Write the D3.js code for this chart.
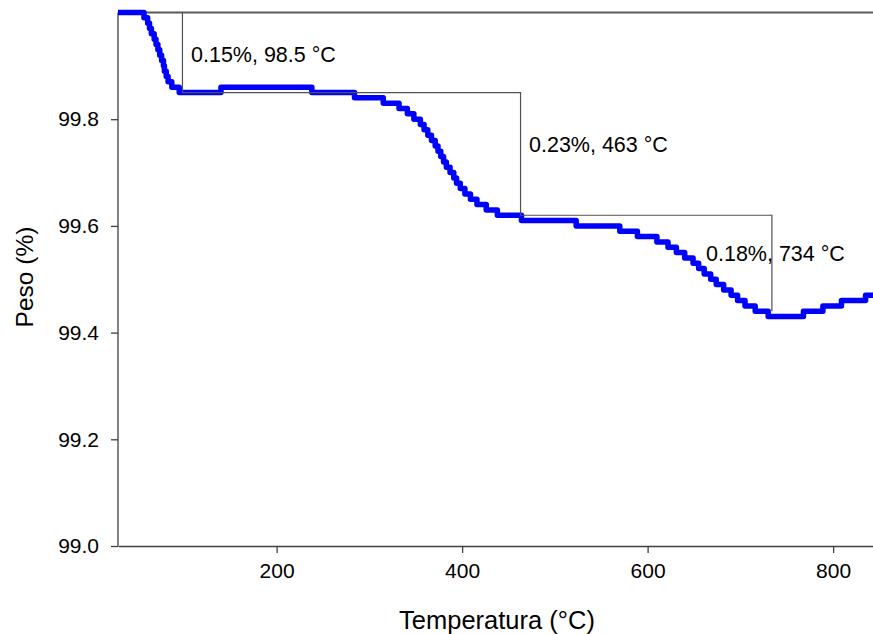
<!DOCTYPE html>
<html>
<head>
<meta charset="utf-8">
<script src="https://cdn.jsdelivr.net/npm/d3@7/dist/d3.min.js"></script>
<style>
  html, body { margin: 0; padding: 0; background: #fff; }
  svg { display: block; font-family: "Liberation Sans", Arial, sans-serif; }
</style>
</head>
<body>
<svg id="chart" width="873" height="634"></svg>
<script>
// TGA curve: temperature (°C) at which each weight step begins, and the weight (%) from there on
const temperatura = [
  29, 57, 61, 63, 65, 68, 70, 72, 74, 76, 78, 79, 81, 83, 87, 95,
  140, 238, 284, 315, 332, 341, 348, 355, 359, 363, 367, 371, 374, 377,
  380, 383, 387, 391, 394, 398, 403, 409, 416, 426, 438, 464,
  523, 570, 589, 610, 622, 631, 640, 649, 655, 661, 668, 674, 682, 690,
  697, 705, 716, 730, 768, 789, 809, 835, 843
];
const peso = [
  100.00, 99.99, 99.98, 99.97, 99.96, 99.95, 99.94, 99.93, 99.92, 99.91, 99.90, 99.89, 99.88, 99.87, 99.86, 99.85,
  99.86, 99.85, 99.84, 99.83, 99.82, 99.81, 99.80, 99.79, 99.78, 99.77, 99.76, 99.75, 99.74, 99.73,
  99.72, 99.71, 99.70, 99.69, 99.68, 99.67, 99.66, 99.65, 99.64, 99.63, 99.62, 99.61,
  99.60, 99.59, 99.58, 99.57, 99.56, 99.55, 99.54, 99.53, 99.52, 99.51, 99.50, 99.49, 99.48, 99.47,
  99.46, 99.45, 99.44, 99.43, 99.44, 99.45, 99.46, 99.47, 99.47
];

// Mass-loss steps: onset temperature and loss (%)
const perdaTemp = [98.5, 463, 734];
const perdaPct = [0.15, 0.23, 0.18];
const perdaLabels = ["0.15%, 98.5 °C", "0.23%, 463 °C", "0.18%, 734 °C"];

const xTicks = [200, 400, 600, 800];
const yTicks = [99.0, 99.2, 99.4, 99.6, 99.8];

const svg = d3.select("#chart");
const x = d3.scaleLinear().domain([29, 843]).range([118, 873]);
const y = d3.scaleLinear().domain([99, 100]).range([546, 12.5]);

const axisColor = "#404040";

// 100 % reference line
svg.append("line")
  .attr("x1", x(29)).attr("x2", x(843))
  .attr("y1", y(100)).attr("y2", y(100))
  .attr("stroke", "#5a5a5a").attr("stroke-width", 2);

// axes
const xAxis = svg.append("g").attr("transform", `translate(0,${y(99)})`)
  .call(d3.axisBottom(x).tickValues(xTicks).tickSize(7).tickSizeOuter(0).tickPadding(10).tickFormat(d3.format("d")));
const yAxis = svg.append("g").attr("transform", `translate(${x(29)},0)`)
  .call(d3.axisLeft(y).tickValues(yTicks).tickSize(7).tickSizeOuter(0).tickPadding(12).tickFormat(d3.format(".1f")));

[xAxis, yAxis].forEach(g => {
  g.select(".domain").attr("stroke", axisColor).attr("stroke-width", 1.3);
  g.selectAll(".tick line").attr("stroke", axisColor).attr("stroke-width", 1.3);
  g.selectAll(".tick text").attr("fill", "#000").style("font-size", "21px")
    .style("font-family", "'Liberation Sans', Arial, sans-serif");
});
// y domain runs up to the 100 % line
yAxis.select(".domain").attr("d", `M0,${y(99)}V${y(100)}`);

// weight curve
const dados = temperatura.map((t, i) => ({ t, p: peso[i] }));
svg.append("path")
  .datum(dados)
  .attr("fill", "none")
  .attr("stroke", "#0000ff")
  .attr("stroke-width", 5.5)
  .attr("stroke-linejoin", "round")
  .attr("d", d3.line().x(d => x(d.t)).y(d => y(d.p)).curve(d3.curveStepAfter));

// staircase of mass-loss markers
let nivel = 100;
const bracketPts = [];
perdaTemp.forEach((t, i) => {
  bracketPts.push([t, nivel]);
  nivel = +(nivel - perdaPct[i]).toFixed(2);
  bracketPts.push([t, nivel]);
});
svg.append("path")
  .attr("fill", "none")
  .attr("stroke", "#505050")
  .attr("stroke-width", 1.2)
  .attr("d", d3.line().x(d => x(d[0])).y(d => y(d[1]))(bracketPts));

// step labels
const labelPos = [[191, 62], [529, 152], [706, 261]];
svg.selectAll("text.perda")
  .data(perdaLabels)
  .enter().append("text")
  .attr("class", "perda")
  .attr("x", (d, i) => labelPos[i][0])
  .attr("y", (d, i) => labelPos[i][1])
  .attr("fill", "#000")
  .style("font-size", "21.5px")
  .text(d => d);

// axis titles
svg.append("text")
  .attr("x", 497).attr("y", 629)
  .attr("text-anchor", "middle")
  .style("font-size", "25.5px")
  .attr("fill", "#000")
  .text("Temperatura (°C)");

svg.append("text")
  .attr("transform", "translate(33,277) rotate(-90)")
  .attr("text-anchor", "middle")
  .style("font-size", "24.5px")
  .attr("fill", "#000")
  .text("Peso (%)");
</script>
</body>
</html>
